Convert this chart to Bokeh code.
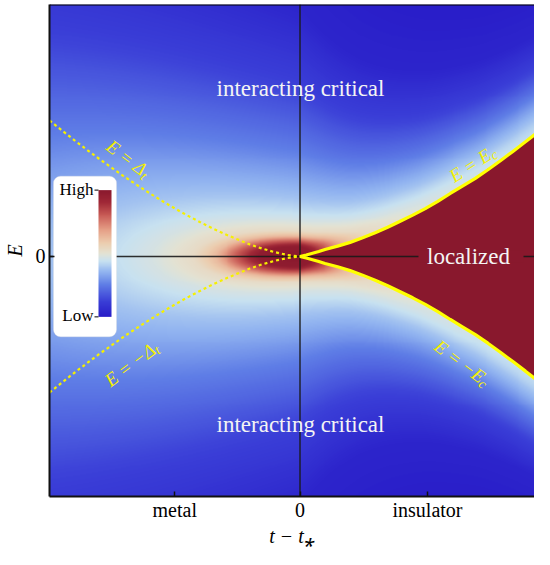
import numpy as np
from bokeh.plotting import figure
from bokeh.models import LinearColorMapper, FixedTicker, Label, BoxAnnotation, Span
from bokeh.embed import file_html
from bokeh.resources import INLINE

# ---------------- data ----------------
x_ticks = [-0.50, 0.0, 0.509]
x_tick_labels = ["metal", "0", "insulator"]
y_ticks = [0.0]
y_tick_labels = ["0"]

# E = ±Δt boundary (metal side, dashed)
delta_t = [-1.0, -0.95, -0.9, -0.85, -0.8, -0.75, -0.7, -0.65, -0.6, -0.55, -0.5,
           -0.45, -0.4, -0.35, -0.3, -0.25, -0.2, -0.15, -0.1, -0.05, 0.0]
delta_E = [0.540, 0.500, 0.461, 0.423, 0.386, 0.351, 0.316, 0.283, 0.251, 0.220, 0.191,
           0.163, 0.137, 0.112, 0.089, 0.068, 0.048, 0.031, 0.017, 0.006, 0.0]

# E = ±Ec boundary (insulator side, solid)
ec_t = [0.0, 0.025, 0.05, 0.075, 0.1, 0.15, 0.2, 0.25, 0.3, 0.35, 0.4, 0.45, 0.5,
        0.55, 0.6, 0.65, 0.7, 0.75, 0.8, 0.85, 0.9, 0.95, 1.0]
ec_E = [0.0, 0.006, 0.013, 0.020, 0.028, 0.041, 0.056, 0.074, 0.094, 0.116, 0.140, 0.164,
        0.190, 0.219, 0.250, 0.280, 0.310, 0.344, 0.380, 0.417, 0.455, 0.494, 0.533]

# intensity profile vs scaled distance from the critical / localized region
prof_r = [0.0, 0.04, 0.06, 0.08, 0.10, 0.14, 0.23, 0.42, 0.66, 1.0, 1.6]
prof_v = [1.0, 0.97, 0.80, 0.62, 0.53, 0.47, 0.38, 0.25, 0.13, 0.03, 0.0]

palette_pos = [0.0, 0.12, 0.25, 0.35, 0.44, 0.50, 0.58, 0.68, 0.80, 0.90, 1.0]
palette_rgb = [(40, 28, 200), (58, 62, 215), (95, 125, 230), (145, 180, 240),
               (200, 225, 240), (228, 226, 210), (236, 205, 175), (230, 160, 135),
               (200, 90, 85), (160, 40, 55), (137, 24, 45)]

# ---------------- layout constants ----------------
PX0, PXS = 299.5, 250.5   # canvas px of x=0, px per unit
PY0, PYS = 256.5, 252.5
FR_L, FR_R, FR_T, FR_B = 49, 534, 4, 497
W, H = 534, 549

def px2data(px, py):
    return (px - PX0) / PXS, (PY0 - py) / PYS

X0, Y1 = px2data(FR_L, FR_T)
X1, Y0 = px2data(FR_R, FR_B)

SERIF = "Liberation Serif"
YELLOW = "#f5f000"
MAROON = "#89182d"

# palette
tt = np.linspace(0, 1, 256)
chan = [np.interp(tt, palette_pos, [c[i] for c in palette_rgb]) for i in range(3)]
palette = ["#%02x%02x%02x" % (int(round(r)), int(round(g)), int(round(b)))
           for r, g, b in zip(*chan)]
mapper = LinearColorMapper(palette=palette, low=0.0, high=1.0)

# field
nx, ny = 500, 500
xs = np.linspace(X0, X1, nx)
ys = np.linspace(Y0, Y1, ny)
XX, YY = np.meshgrid(xs, ys)
AY = np.abs(YY)
right = XX > 0
XP = np.clip(XX, 0, None)
ec_grid = np.interp(XP, ec_t, ec_E)
Ep = np.where(right, np.maximum(AY - ec_grid, 0.0) * (1 + 1.6 * XP),
              AY / (1 + 0.4 * np.abs(XX)))
rx = np.where(right, 0.19 * np.sqrt(XP), np.abs(XX) / 4.2)
rr = np.sqrt(rx ** 2 + Ep ** 2)
val = np.interp(rr, prof_r, prof_v)
val = np.where(right & (AY <= ec_grid), 1.0, val)

p = figure(width=W, height=H, x_range=(X0, X1), y_range=(Y0, Y1),
           output_backend="svg", toolbar_location=None,
           min_border_left=FR_L, min_border_right=W - FR_R,
           min_border_top=FR_T, min_border_bottom=H - FR_B)
p.grid.visible = False
p.outline_line_color = None
p.background_fill_color = "white"

p.image(image=[val], x=X0, y=Y0, dw=X1 - X0, dh=Y1 - Y0, color_mapper=mapper, level="image")

# zero lines
p.segment(x0=[X0], y0=[0], x1=[X1], y1=[0], line_color="#1a1a1a", line_width=1.5,
          line_alpha=0.9, level="image")
p.segment(x0=[0], y0=[Y0], x1=[0], y1=[Y1], line_color="#1a1a1a", line_width=1.5,
          line_alpha=0.9, level="image")

# boundaries
p.line(delta_t, delta_E, line_color=YELLOW, line_width=2.2, line_dash="3 3", level="image")
p.line(delta_t, [-e for e in delta_E], line_color=YELLOW, line_width=2.2, line_dash="3 3", level="image")
p.line(ec_t, ec_E, line_color="#ffff00", line_width=3.2, level="image")
p.line(ec_t, [-e for e in ec_E], line_color="#ffff00", line_width=3.2, level="image")

# background behind "localized"
lx0, _ = px2data(418, 0)
lx1, _ = px2data(523, 0)
p.quad(left=[lx0], right=[lx1], bottom=[-0.025], top=[0.025], fill_color=MAROON,
       line_color=None, level="image")

# top border
p.add_layout(Span(location=Y1, dimension="width", line_color="black", line_width=2))

# region labels
for (cx, cy, txt) in [(300, 88, "interacting critical"), (300, 425, "interacting critical"),
                      (468, 256.5, "localized")]:
    dx, dy = px2data(cx, cy)
    p.add_layout(Label(x=dx, y=dy, text=txt, text_align="center", text_baseline="middle",
                       text_font=SERIF, text_font_size="23px", text_color="#f4f4f4"))

# rotated boundary labels with subscripts
def boundary_label(cx, cy, deg, main, sub, main_w, sub_w=6.5):
    th = np.radians(deg)
    L = main_w + sub_w
    sx = cx - L / 2 * np.cos(th) + 6 * np.sin(th)
    sy = cy + L / 2 * np.sin(th) + 6 * np.cos(th)
    dx, dy = px2data(sx, sy)
    p.add_layout(Label(x=dx, y=dy, text=main, angle=deg, angle_units="deg",
                       text_align="left", text_baseline="alphabetic",
                       text_font=SERIF, text_font_style="italic", text_font_size="19px",
                       text_color=YELLOW))
    d = 4.5
    xo = main_w * np.cos(th) + d * np.sin(th)
    yo = main_w * np.sin(th) - d * np.cos(th)
    p.add_layout(Label(x=dx, y=dy, x_offset=xo, y_offset=yo, text=sub, angle=deg,
                       angle_units="deg", text_align="left", text_baseline="alphabetic",
                       text_font=SERIF, text_font_style="italic", text_font_size="14px",
                       text_color=YELLOW))

boundary_label(132.5, 154.5, -37, "E = Δ", "t", 45.5)
boundary_label(128.5, 358.5, 37, "E = −Δ", "t", 58)
boundary_label(469.0, 158.5, 33, "E = E", "c", 45.5)
boundary_label(465.5, 358.5, -37, "E = −E", "c", 58)

# legend (colour scale)
bl, bt = px2data(53, 176)
br, bb = px2data(116, 337)
p.add_layout(BoxAnnotation(left=bl, right=br, top=bt, bottom=bb, fill_color="white",
                           fill_alpha=1.0, line_color="#dddddd", line_width=1,
                           border_radius=7, level="underlay"))
cl, ct = px2data(98, 190)
cr, cb = px2data(111, 317)
grad = np.linspace(0, 1, 256).reshape(256, 1)
p.image(image=[grad], x=cl, y=cb, dw=cr - cl, dh=ct - cb, color_mapper=mapper)
tl, _ = px2data(94, 0)
p.segment(x0=[tl, tl], y0=[ct, cb], x1=[cl, cl], y1=[ct, cb], line_color="black", line_width=1)
hx, hy = px2data(93, 189)
_, ly = px2data(0, 316)
p.add_layout(Label(x=hx, y=hy, text="High", text_align="right", text_baseline="middle",
                   text_font=SERIF, text_font_size="17px", text_color="black"))
p.add_layout(Label(x=hx, y=ly, text="Low", text_align="right", text_baseline="middle",
                   text_font=SERIF, text_font_size="17px", text_color="black"))

# axes
p.xaxis.ticker = FixedTicker(ticks=x_ticks)
p.xaxis.major_label_overrides = {v: l for v, l in zip(x_ticks, x_tick_labels)}
p.yaxis.ticker = FixedTicker(ticks=y_ticks)
p.yaxis.major_label_overrides = {v: l for v, l in zip(y_ticks, y_tick_labels)}
for ax in (p.xaxis, p.yaxis):
    ax.major_tick_in = 5
    ax.major_tick_out = 0
    ax.minor_tick_in = 0
    ax.minor_tick_out = 0
    ax.axis_line_color = "#111111"
    ax.axis_line_width = 2
    ax.major_tick_line_color = "#111111"
    ax.major_tick_line_width = 1.5
    ax.major_label_text_font = SERIF
    ax.major_label_text_font_size = "20px"
    ax.major_label_text_color = "black"
    ax.axis_label_text_font = SERIF
    ax.axis_label_text_font_style = "italic"
    ax.axis_label_text_font_size = "20px"
    ax.axis_label_text_color = "black"
p.xaxis.axis_label = "t − t⁎"
p.xaxis.major_label_standoff = 2
p.xaxis.axis_label_standoff = 1
p.yaxis.axis_label = "E"
p.yaxis.major_label_standoff = 4
p.yaxis.axis_label_standoff = 7

open("out.html", "w").write(file_html(p, INLINE))
